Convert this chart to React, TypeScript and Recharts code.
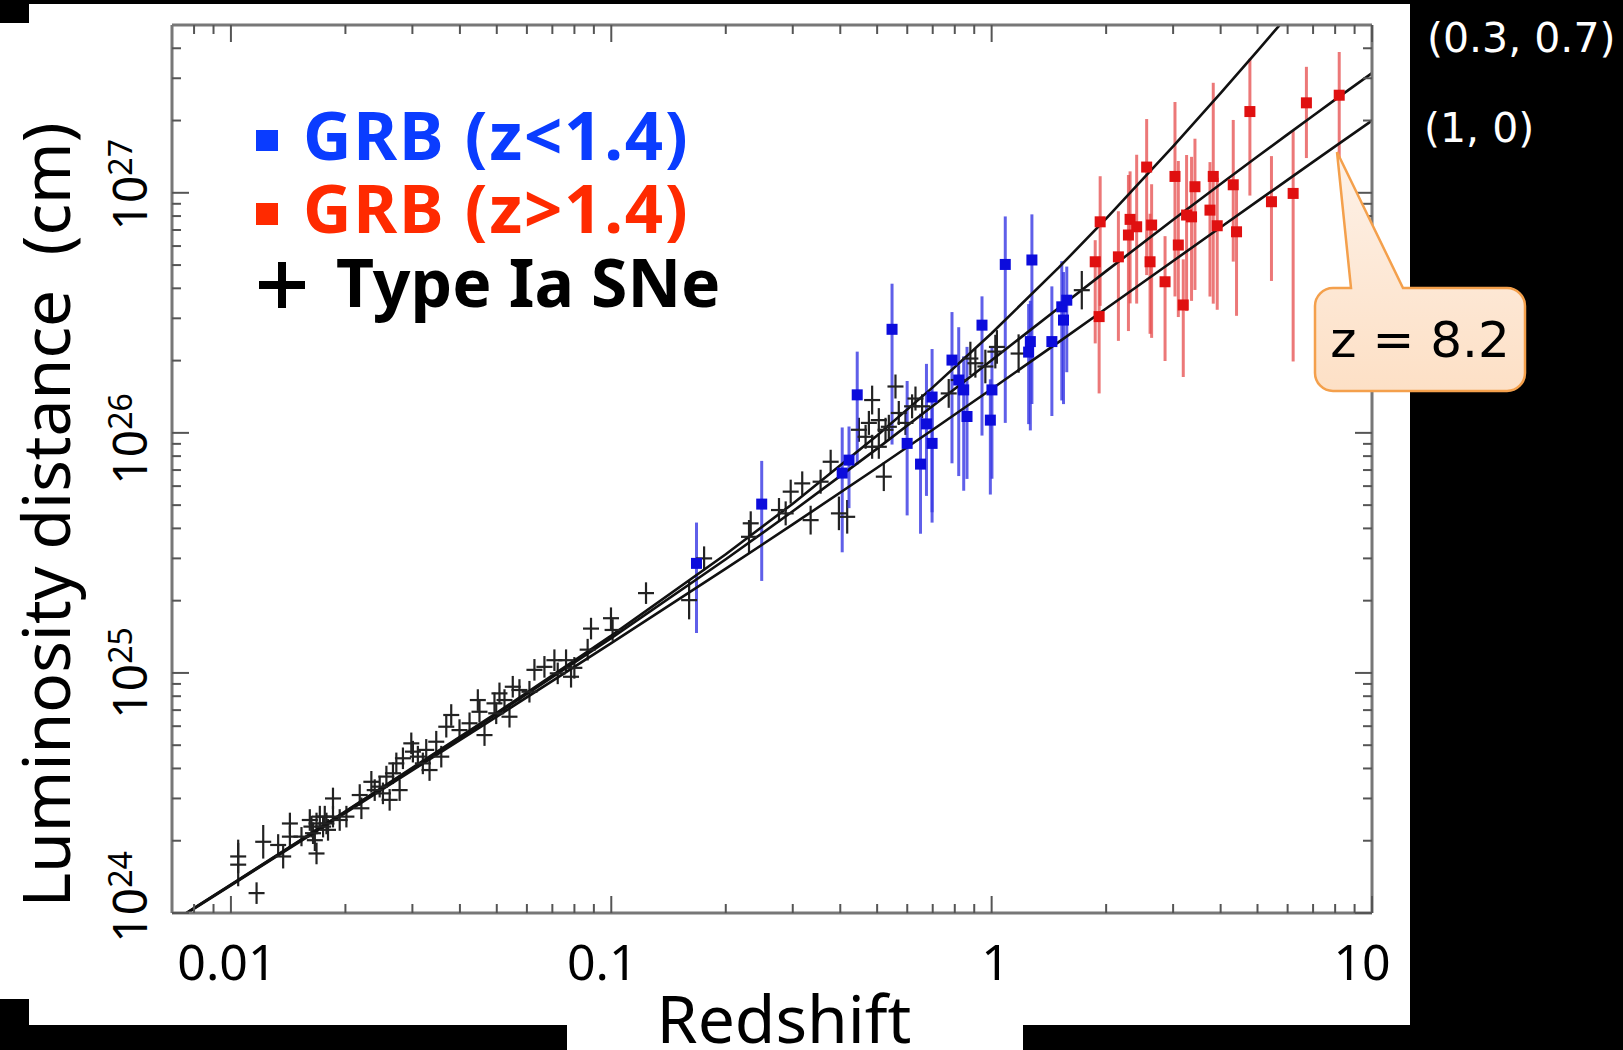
import React from 'react';
import { ComposedChart, Scatter, Line, XAxis, YAxis, ErrorBar } from 'recharts';

// model curves: redshift grid and luminosity distance (cm) for each cosmology
const curveZ = [0.007, 0.01, 0.02, 0.05, 0.1, 0.2, 0.3, 0.5, 0.7, 1, 1.5, 2, 3, 4, 5, 6, 7, 8, 10];
const lcdmD = [9.15e23, 1.31e24, 2.64e24, 6.75e24, 1.397e25, 2.975e25, 4.713e25, 8.6e25, 1.293e26, 2.006e26, 3.312e26, 4.717e26, 7.717e26, 1.088e27, 1.416e27, 1.752e27, 2.095e27, 2.443e27, 3.152e27];
const edsD = [9.12e23, 1.303e24, 2.613e24, 6.579e24, 1.331e25, 2.718e25, 4.155e25, 7.157e25, 1.03e26, 1.523e26, 2.389e26, 3.297e26, 5.2e26, 7.186e26, 9.231e26, 1.132e27, 1.345e27, 1.56e27, 1.998e27];
const dsD = [9.16e23, 1.313e24, 2.652e24, 6.825e24, 1.43e25, 3.12e25, 5.07e25, 9.75e25, 1.547e26, 2.6e26, 4.875e26, 7.8e26, 1.56e27, 2.6e27, 3.9e27, 5.46e27, 7.28e27, 9.36e27, 1.43e28];

// Type Ia SNe
const snZ = [0.01045, 0.01045, 0.01168, 0.01216, 0.01331, 0.01372, 0.01429, 0.01429, 0.01533, 0.01612,
  0.01628, 0.01644, 0.01662, 0.01679, 0.01679, 0.01713, 0.01747, 0.01765, 0.01783, 0.018,
  0.01855, 0.01855, 0.01932, 0.02012, 0.02181, 0.02203, 0.0234, 0.02388, 0.02461, 0.0251,
  0.02563, 0.02614, 0.02667, 0.02722, 0.02777, 0.02833, 0.0298, 0.03009, 0.03101, 0.03196,
  0.03262, 0.03328, 0.03466, 0.03573, 0.03683, 0.03795, 0.0399, 0.0424, 0.04458, 0.04503,
  0.04642, 0.04931, 0.04983, 0.05082, 0.05239, 0.054, 0.05508, 0.05735, 0.06093, 0.0628,
  0.06672, 0.07087, 0.07231, 0.07605, 0.07838, 0.07997, 0.08667, 0.08846, 0.09982, 0.1008,
  0.1234, 0.1602, 0.1754, 0.2302, 0.2326, 0.276, 0.2874, 0.2963, 0.3177, 0.3343,
  0.3551, 0.3774, 0.3967, 0.4171, 0.4851, 0.4756, 0.5051, 0.526, 0.5587, 0.57,
  0.5936, 0.6178, 0.6306, 0.6564, 0.5206, 0.5051, 0.4477, 0.4662, 0.4851, 0.5367,
  0.7712, 0.8193, 0.8792, 0.9062, 0.9627, 1.0226, 1.0325, 1.1774, 1.726];
const snD = [1.72e24, 1.59e24, 1.21e24, 1.98e24, 1.92e24, 1.72e24, 2.36e24, 2.08e24, 2.08e24, 2.44e24,
  2.29e24, 2.15e24, 2.01e24, 2.36e24, 1.77e24, 2.52e24, 2.29e24, 2.52e24, 2.36e24, 2.22e24,
  3.0e24, 2.52e24, 2.44e24, 2.52e24, 3.1e24, 2.73e24, 3.52e24, 3.25e24, 3.36e24, 3.15e24,
  3.7e24, 2.96e24, 3.82e24, 4.2e24, 3.25e24, 4.41e24, 5.09e24, 4.7e24, 4.48e24, 4.2e24,
  4.78e24, 3.94e24, 5.17e24, 4.48e24, 5.97e24, 6.68e24, 5.78e24, 6.17e24, 7.71e24, 6.89e24,
  5.51e24, 7.47e24, 6.79e24, 8.22e24, 7.71e24, 6.57e24, 8.76e24, 8.49e24, 8.35e24, 1.03e25,
  1.06e25, 1.13e25, 9.96e24, 1.13e25, 9.64e24, 1.05e25, 1.25e25, 1.53e25, 1.69e25, 1.51e25,
  2.15e25, 2.01e25, 3.0e25, 3.69e25, 4.2e25, 4.77e25, 4.62e25, 5.69e25, 6.16e25, 4.33e25,
  6.26e25, 7.58e25, 4.62e25, 4.47e25, 1.37e26, 1.1e26, 1.13e26, 1.03e26, 1.56e26, 1.21e26,
  1.1e26, 1.29e26, 1.39e26, 1.29e26, 6.57e25, 8.75e25, 1.03e26, 9.63e25, 8.75e25, 1.06e26,
  1.46e26, 1.66e26, 2.04e26, 1.95e26, 1.89e26, 2.18e26, 2.28e26, 2.14e26, 3.93e26];
// half error in dex
const snErr = [0.07, 0.09, 0.045, 0.07, 0.045, 0.05, 0.045, 0.045, 0.04, 0.045,
  0.045, 0.045, 0.045, 0.045, 0.045, 0.045, 0.045, 0.045, 0.045, 0.045,
  0.045, 0.045, 0.045, 0.045, 0.045, 0.045, 0.045, 0.045, 0.045, 0.045,
  0.045, 0.045, 0.045, 0.045, 0.045, 0.045, 0.045, 0.045, 0.045, 0.045,
  0.045, 0.045, 0.045, 0.045, 0.045, 0.045, 0.045, 0.045, 0.045, 0.045,
  0.045, 0.045, 0.045, 0.045, 0.045, 0.045, 0.045, 0.045, 0.045, 0.045,
  0.045, 0.045, 0.045, 0.045, 0.045, 0.045, 0.045, 0.045, 0.045, 0.045,
  0.045, 0.08, 0.05, 0.07, 0.05, 0.05, 0.05, 0.05, 0.05, 0.06,
  0.05, 0.05, 0.07, 0.07, 0.06, 0.05, 0.05, 0.05, 0.05, 0.05,
  0.05, 0.05, 0.05, 0.05, 0.06, 0.05, 0.05, 0.05, 0.05, 0.05,
  0.06, 0.06, 0.07, 0.06, 0.07, 0.07, 0.07, 0.08, 0.08];

// GRB z < 1.4
const blueZ = [0.1675, 0.2486, 0.4047, 0.4432, 0.4217, 0.5472, 0.5996, 0.6502, 0.6973, 0.6973,
  0.674, 0.7866, 0.8193, 0.8444, 0.8615, 0.9433, 1.0018, 0.9922, 1.264, 1.44,
  1.086, 1.276, 1.251, 1.529, 1.545, 1.576];
const blueD = [2.86e25, 5.05e25, 6.8e25, 1.44e26, 7.7e25, 2.7e26, 9.04e25, 7.41e25, 1.41e26, 9.04e25,
  1.09e26, 2.01e26, 1.66e26, 1.51e26, 1.17e26, 2.81e26, 1.51e26, 1.13e26, 2.4e26, 2.4e26,
  5.03e26, 5.25e26, 2.17e26, 3.35e26, 2.95e26, 3.57e26];
const blueUp = [0.17, 0.18, 0.19, 0.18, 0.14, 0.19, 0.26, 0.21, 0.2, 0.15,
  0.25, 0.2, 0.22, 0.14, 0.29, 0.12, 0.18, 0.17, 0.17, 0.23,
  0.2, 0.19, 0.2, 0.19, 0.2, 0.14];
const blueDown = [0.29, 0.32, 0.33, 0.29, 0.2, 0.48, 0.3, 0.29, 0.48, 0.33,
  0.3, 0.43, 0.4, 0.42, 0.26, 0.46, 0.37, 0.31, 0.37, 0.31,
  0.66, 0.6, 0.3, 0.39, 0.35, 0.3];

// GRB z > 1.4
const redZ = [1.929, 1.872, 1.917, 2.154, 2.312, 2.289, 2.406, 2.556, 2.634, 2.609,
  2.857, 3.034, 3.096, 3.19, 3.255, 3.424, 3.354, 3.75, 3.825, 3.918,
  4.317, 4.404, 4.775, 5.441, 6.204, 6.723, 8.2];
const redD = [7.57e26, 5.16e26, 3.05e26, 5.41e26, 7.75e26, 6.67e26, 7.22e26, 1.28e27, 7.34e26, 5.16e26,
  4.26e26, 1.17e27, 6.06e26, 3.41e26, 8.08e26, 1.06e27, 7.94e26, 8.47e26, 1.17e27, 7.29e26,
  1.08e27, 6.88e26, 2.18e27, 9.18e26, 9.94e26, 2.37e27, 2.55e27];
const redUp = [0.19, 0.09, 0.25, 0.19, 0.2, 0.25, 0.3, 0.2, 0.17, 0.2,
  0.19, 0.31, 0.35, 0.19, 0.25, 0.2, 0.25, 0.2, 0.39, 0.2,
  0.27, 0.19, 0.22, 0.19, 0.26, 0.15, 0.18];
const redDown = [0.35, 0.34, 0.32, 0.35, 0.35, 0.4, 0.32, 0.45, 0.47, 0.3,
  0.33, 0.5, 0.3, 0.3, 0.4, 0.43, 0.35, 0.36, 0.53, 0.35,
  0.32, 0.35, 0.35, 0.33, 0.7, 0.23, 0.27];

const xTicks = [0.008, 0.009, 0.01, 0.02, 0.03, 0.04, 0.05, 0.06, 0.07, 0.08, 0.09,
  0.1, 0.2, 0.3, 0.4, 0.5, 0.6, 0.7, 0.8, 0.9, 1, 2, 3, 4, 5, 6, 7, 8, 9, 10];
const xMajor = [0.01, 0.1, 1, 10];
const xMajorLabels = ['0.01', '0.1', '1', '10'];
const yTicks = [1e24, 2e24, 3e24, 4e24, 5e24, 6e24, 7e24, 8e24, 9e24,
  1e25, 2e25, 3e25, 4e25, 5e25, 6e25, 7e25, 8e25, 9e25,
  1e26, 2e26, 3e26, 4e26, 5e26, 6e26, 7e26, 8e26, 9e26,
  1e27, 2e27, 3e27, 4e27];
const yMajor = [1e24, 1e25, 1e26, 1e27];
const yExp = ['24', '25', '26', '27'];

const NOTO = "'Noto Sans', sans-serif";
const DEJAVU = "'DejaVu Sans', sans-serif";
const tickCol = '#555';

const xLabelShift = [-4, -9, 4, -10];
const BottomTick = ({ x, y, payload }: any) => {
  const i = xMajor.indexOf(payload.value);
  return (
    <g>
      <line x1={x} x2={x} y1={y} y2={y - (i >= 0 ? 17 : 9)} stroke={tickCol} strokeWidth={2} />
      {i >= 0 && (
        <text x={x + xLabelShift[i]} y={y + 67} textAnchor="middle" fontSize={50} fontFamily={NOTO} fill="#000">
          {xMajorLabels[i]}
        </text>
      )}
    </g>
  );
};

const TopTick = ({ x, y, payload }: any) => {
  const major = xMajor.indexOf(payload.value) >= 0;
  return <line x1={x} x2={x} y1={y} y2={y + (major ? 17 : 9)} stroke={tickCol} strokeWidth={2} />;
};

const yLabelShift = [-16, 0, 6, -8];
const LeftTick = ({ x, y, payload }: any) => {
  const i = yMajor.indexOf(payload.value);
  return (
    <g>
      <line x1={x} x2={x + (i >= 0 ? 17 : 9)} y1={y} y2={y} stroke={tickCol} strokeWidth={2} />
      {i >= 0 && (
        <text transform={`translate(${x - 25},${y + yLabelShift[i]}) rotate(-90)`} textAnchor="middle"
          fontSize={48} fontFamily={NOTO} fill="#000">
          10<tspan dy={-15} fontSize={32}>{yExp[i]}</tspan>
        </text>
      )}
    </g>
  );
};

const RightTick = ({ x, y, payload }: any) => {
  const major = yMajor.indexOf(payload.value) >= 0;
  return <line x1={x} x2={x - (major ? 17 : 9)} y1={y} y2={y} stroke={tickCol} strokeWidth={2} />;
};

const frame = { stroke: '#777', strokeWidth: 3 };

export default function App() {
  const curve = (ds: number[]) => curveZ.map((z, i) => ({ z, d: ds[i] }));
  const sn = snZ.map((z, i) => ({
    z, d: snD[i],
    e: [snD[i] * (1 - Math.pow(10, -snErr[i])), snD[i] * (Math.pow(10, snErr[i]) - 1)],
  }));
  const grb = (zs: number[], ds: number[], up: number[], dn: number[]) =>
    zs.map((z, i) => ({
      z, d: ds[i],
      e: [ds[i] * (1 - Math.pow(10, -dn[i])), ds[i] * (Math.pow(10, up[i]) - 1)],
    }));
  const blue = grb(blueZ, blueD, blueUp, blueDown);
  const red = grb(redZ, redD, redUp, redDown);

  return (
    <div style={{ position: 'absolute', left: 0, top: 0, width: 1623, height: 1050, background: '#000', overflow: 'hidden' }}>
      <div style={{ position: 'absolute', left: 0, top: 4, width: 1410, height: 1021, background: '#fff' }} />
      <div style={{ position: 'absolute', left: 567, top: 1025, width: 456, height: 25, background: '#fff' }} />
      <div style={{ position: 'absolute', left: 0, top: 4, width: 29, height: 19, background: '#000' }} />
      <div style={{ position: 'absolute', left: 0, top: 999, width: 29, height: 26, background: '#000' }} />

      <div style={{ position: 'absolute', left: 0, top: 0 }}>
        <ComposedChart width={1623} height={1050} margin={{ top: 0, right: 0, bottom: 0, left: 0 }}>
          <XAxis xAxisId="b" dataKey="z" type="number" scale="log" domain={[0.007, 10]} allowDataOverflow
            ticks={xTicks} interval={0} height={137} tickSize={0} tickMargin={0} tickLine={false}
            axisLine={frame} tick={(p: any) => <BottomTick {...p} />} />
          <XAxis xAxisId="t" orientation="top" dataKey="z" type="number" scale="log" domain={[0.007, 10]} allowDataOverflow
            ticks={xTicks} interval={0} height={25} tickSize={0} tickMargin={0} tickLine={false}
            axisLine={frame} tick={(p: any) => <TopTick {...p} />} />
          <YAxis yAxisId="l" dataKey="d" type="number" scale="log" domain={[1e24, 5e27]} allowDataOverflow
            ticks={yTicks} interval={0} width={172} tickSize={0} tickMargin={0} tickLine={false}
            axisLine={frame} tick={(p: any) => <LeftTick {...p} />} />
          <YAxis yAxisId="r" orientation="right" dataKey="d" type="number" scale="log" domain={[1e24, 5e27]} allowDataOverflow
            ticks={yTicks} interval={0} width={251} tickSize={0} tickMargin={0} tickLine={false}
            axisLine={frame} tick={(p: any) => <RightTick {...p} />} />

          <Scatter xAxisId="b" yAxisId="l" data={sn} isAnimationActive={false}
            shape={(p: any) => <line x1={p.cx - 8} x2={p.cx + 8} y1={p.cy} y2={p.cy} stroke="#222" strokeWidth={2.2} />}>
            <ErrorBar dataKey="e" direction="y" width={0} stroke="#222" strokeWidth={2.2} isAnimationActive={false} />
          </Scatter>
          <Scatter xAxisId="b" yAxisId="l" data={blue} isAnimationActive={false}
            shape={(p: any) => <rect x={p.cx - 5.5} y={p.cy - 5.5} width={11} height={11} fill="#0c0cdc" />}>
            <ErrorBar dataKey="e" direction="y" width={0} stroke="rgba(55,55,228,0.8)" strokeWidth={3} isAnimationActive={false} />
          </Scatter>
          <Scatter xAxisId="b" yAxisId="l" data={red} isAnimationActive={false}
            shape={(p: any) => <rect x={p.cx - 5.5} y={p.cy - 5.5} width={11} height={11} fill="#e01010" />}>
            <ErrorBar dataKey="e" direction="y" width={0} stroke="rgba(230,75,75,0.75)" strokeWidth={3} isAnimationActive={false} />
          </Scatter>

          <Line xAxisId="b" yAxisId="l" data={curve(lcdmD)} dataKey="d" type="linear" dot={false}
            stroke="#111" strokeWidth={2.6} isAnimationActive={false} />
          <Line xAxisId="b" yAxisId="l" data={curve(edsD)} dataKey="d" type="linear" dot={false}
            stroke="#111" strokeWidth={2.6} isAnimationActive={false} />
          <Line xAxisId="t" yAxisId="r" data={curve(dsD)} dataKey="d" type="linear" dot={false}
            stroke="#111" strokeWidth={2.6} isAnimationActive={false} />
        </ComposedChart>
      </div>

      <svg width={1623} height={1050} style={{ position: 'absolute', left: 0, top: 0, pointerEvents: 'none' }}>
        <defs>
          <linearGradient id="callout" x1="0" y1="0" x2="0" y2="1">
            <stop offset="0" stopColor="#fdf1e7" />
            <stop offset="1" stopColor="#fde0c6" />
          </linearGradient>
        </defs>

        {/* legend */}
        <rect x={256} y={130} width={22} height={21} fill="#0a3cff" />
        <text x={303} y={160} fontSize={67} fontWeight={700} fontFamily={NOTO} fill="#0a3cff" letterSpacing={1.8}>GRB (z&lt;1.4)</text>
        <rect x={256} y={203} width={22} height={22} fill="#ff2a00" />
        <text x={303} y={233} fontSize={67} fontWeight={700} fontFamily={NOTO} fill="#ff2a00" letterSpacing={1.8}>GRB (z&gt;1.4)</text>
        <line x1={259} x2={305} y1={285} y2={285} stroke="#000" strokeWidth={8} />
        <line x1={282} x2={282} y1={262} y2={308} stroke="#000" strokeWidth={8} />
        <text x={336} y={307} fontSize={66} fontWeight={700} fontFamily={NOTO} fill="#000">Type Ia SNe</text>

        {/* axis titles */}
        <text x={784} y={1043} textAnchor="middle" fontSize={66} fontFamily={NOTO} fill="#000">Redshift</text>
        <text transform="translate(70,515) rotate(-90)" textAnchor="middle" fontSize={66} fontFamily={NOTO}
          fill="#000" style={{ whiteSpace: 'pre' }}>Luminosity distance  (cm)</text>

        {/* model labels */}
        <text x={1427} y={52} fontSize={41} fontFamily={DEJAVU} fill="#fff">(0.3, 0.7)</text>
        <text x={1424} y={142} fontSize={41} fontFamily={DEJAVU} fill="#fff">(1, 0)</text>

        {/* callout */}
        <path d="M1333,288 L1351,288 L1337,152 L1403,288 L1507,288 A18,18 0 0 1 1525,306 L1525,373 A18,18 0 0 1 1507,391 L1333,391 A18,18 0 0 1 1315,373 L1315,306 A18,18 0 0 1 1333,288 Z"
          fill="url(#callout)" stroke="#f4a04c" strokeWidth={2.5} />
        <text x={1420} y={357} textAnchor="middle" fontSize={50} fontFamily={DEJAVU} fill="#000">z = 8.2</text>
      </svg>
    </div>
  );
}
